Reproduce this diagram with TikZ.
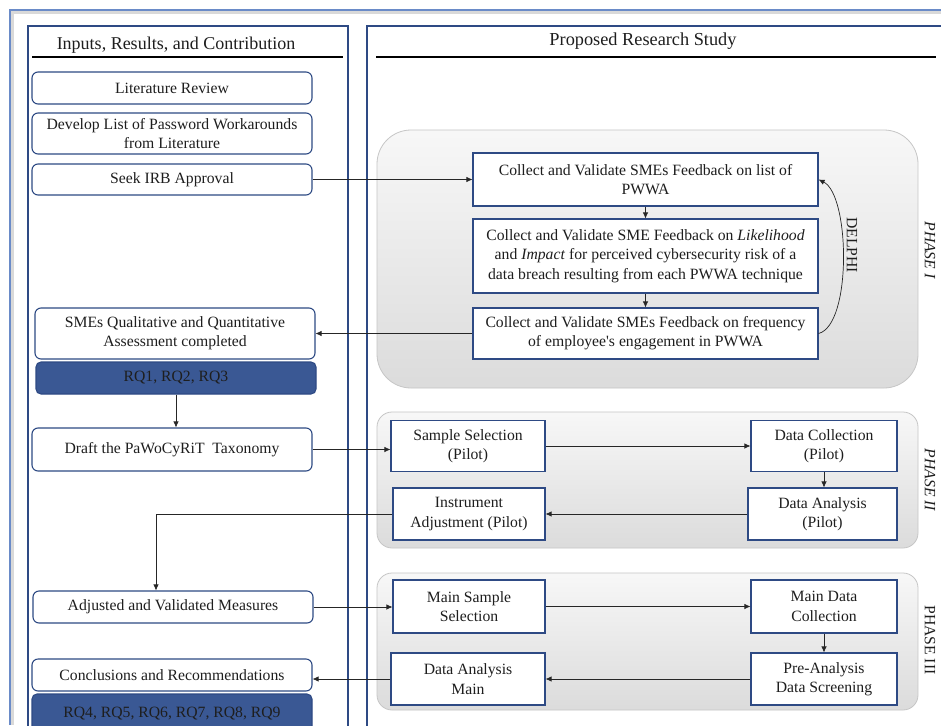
\documentclass[tikz,border=0pt]{standalone}
\usepackage{fontspec}
\setmainfont{Liberation Serif}
\usetikzlibrary{arrows.meta}
\definecolor{bdr}{HTML}{2E4A84}
\definecolor{rqfill}{HTML}{3A5894}
\definecolor{frameblue}{HTML}{6A8BC8}
\definecolor{txt}{HTML}{1E1E1E}
\begin{document}
\begin{tikzpicture}[x=1pt,y=-1pt,
  font=\fontsize{15.7}{19.3}\selectfont, text=txt,
  lbox/.style={draw=bdr, line width=1.1pt, rounded corners=6pt, fill=white, align=center, inner sep=0pt},
  rqbox/.style={draw=bdr, line width=1.1pt, rounded corners=5pt, fill=rqfill, align=center, inner sep=0pt},
  sbox/.style={draw=bdr, line width=1.1pt, fill=white, align=center, inner sep=0pt},
  phase/.style={draw=gray!45, line width=0.8pt, top color=gray!6, bottom color=gray!28},
  panel/.style={draw=bdr, line width=1.2pt},
  conn/.style={draw=black!85, line width=0.7pt, -{Latex[length=6pt,width=5.5pt]}},
  plain/.style={draw=black!85, line width=0.7pt},
  plabel/.style={rotate=-90, font=\fontsize{15.7}{19}\selectfont\itshape}
]
\useasboundingbox (0,0) rectangle (941,725);
\fill[white] (0,0) rectangle (941,725);
% outer frame with shadow
\fill[gray!30] (10,10) rectangle (941,14);
\fill[gray!30] (10,10) rectangle (14,725);
\draw[frameblue, line width=1.6pt] (10,725) -- (10,10) -- (941,10);
% panels
\draw[panel] (28,735) -- (28,26) -- (348,26) -- (348,735);
\draw[panel] (367,735) -- (367,26) -- (950,26);
\node[font=\fontsize{18}{21}\selectfont] (hl) at (176,45) {Inputs, Results, and Contribution};
\node[font=\fontsize{18.3}{21}\selectfont] (hr) at (643,41) {Proposed Research Study};
\draw[black, line width=1.4pt] (32,57) -- (343,57);
\draw[black, line width=1.4pt] (376,57) -- (936,57);
% phase containers
\draw[phase, rounded corners=34pt] (377,130) rectangle (918,388);
\draw[phase, rounded corners=15pt] (377,412) rectangle (918,548);
\draw[phase, rounded corners=15pt] (377,573) rectangle (918,710);
\node[plabel] (p1) at (930,250) {PHASE I};
\node[plabel] (p2) at (930,480) {PHASE II};
\node[rotate=-90] (p3) at (930,640) {PHASE III};
% left boxes
\node[lbox, minimum width=280, minimum height=32] (lit) at (172,88) {Literature Review};
\node[lbox, minimum width=280, minimum height=41] (dev) at (172,133.5) {Develop List of Password Workarounds\\from Literature};
\node[lbox, minimum width=280, minimum height=31] (irb) at (172,179.5) {Seek IRB Approval};
\node[lbox, minimum width=280, minimum height=51] (sme) at (175,333.5) {SMEs Qualitative and Quantitative\\Assessment completed};
\node[rqbox, minimum width=280, minimum height=32] (rq1) at (176,378) {RQ1, RQ2, RQ3};
\node[lbox, minimum width=280, minimum height=43] (draft) at (172,449.5) {Draft the PaWoCyRiT\ \ Taxonomy};
\node[lbox, minimum width=280, minimum height=32] (adj) at (173,607) {Adjusted and Validated Measures};
\node[lbox, minimum width=280, minimum height=32] (concl) at (172,675) {Conclusions and Recommendations};
\node[rqbox, minimum width=280, minimum height=40, text depth=0pt] (rq2) at (172,714) {\raisebox{4pt}{RQ4, RQ5, RQ6, RQ7, RQ8, RQ9}};
% phase I boxes
\node[sbox, minimum width=345, minimum height=53] (b1) at (645.5,179.5) {Collect and Validate SMEs Feedback on list of\\PWWA};
\node[sbox, minimum width=345, minimum height=74] (b2) at (645.5,256) {Collect and Validate SME Feedback on \textit{Likelihood}\\and \textit{Impact} for perceived cybersecurity risk of a\\data breach resulting from each PWWA technique};
\node[sbox, minimum width=345, minimum height=51] (b3) at (645.5,333.5) {Collect and Validate SMEs Feedback on frequency\\of employee\textquotesingle s engagement in PWWA};
\node[rotate=-90] (delphi) at (852,245) {DELPHI};
% phase II boxes
\node[sbox, minimum width=154, minimum height=51] (ss) at (468,446) {Sample Selection\\(Pilot)};
\node[sbox, minimum width=146, minimum height=51] (dc) at (824,446) {Data Collection\\(Pilot)};
\node[sbox, minimum width=149, minimum height=52] (da) at (822.5,514) {Data Analysis\\(Pilot)};
\node[sbox, minimum width=152, minimum height=52] (ia) at (469,514) {Instrument\\Adjustment (Pilot)};
% phase III boxes
\node[sbox, minimum width=152, minimum height=53] (ms) at (469,606.5) {Main Sample\\Selection};
\node[sbox, minimum width=146, minimum height=53] (mdc) at (824,606.5) {Main Data\\Collection};
\node[sbox, minimum width=146, minimum height=52] (pa) at (824,679) {Pre-Analysis\\Data Screening};
\node[sbox, minimum width=154, minimum height=52] (dam) at (468,679) {Data Analysis\\Main};
% connectors
\draw[conn] (irb.east) -- (b1.west);
\draw[conn] (b1.south) -- (b2.north);
\draw[conn] (b2.south) -- (b3.north);
\draw[conn] (b3.west) -- (sme.east);
\draw[conn] (b3.east) .. controls (852,325) and (850,195) .. (b1.east);
\draw[conn] (rq1.south) -- (draft.north -| rq1.south);
\draw[conn] (draft.east) -- (draft.east -| ss.west);
\draw[conn] (ss.east) -- (dc.west);
\draw[conn] (dc.south) -- (dc.south |- da.north);
\draw[conn] (da.west) -- (ia.east);
\coordinate (c1) at (156,515);
\draw[plain] (ia.west) -- (ia.west -| c1);
\draw[conn] (c1) -- (c1 |- adj.north);
\draw[conn] (adj.east) -- (adj.east -| ms.west);
\draw[conn] (ms.east) -- (mdc.west);
\draw[conn] (mdc.south) -- (pa.north);
\draw[conn] (pa.west) -- (dam.east);
\draw[conn] (dam.west) -- (dam.west -| concl.east);
\end{tikzpicture}
\end{document}
